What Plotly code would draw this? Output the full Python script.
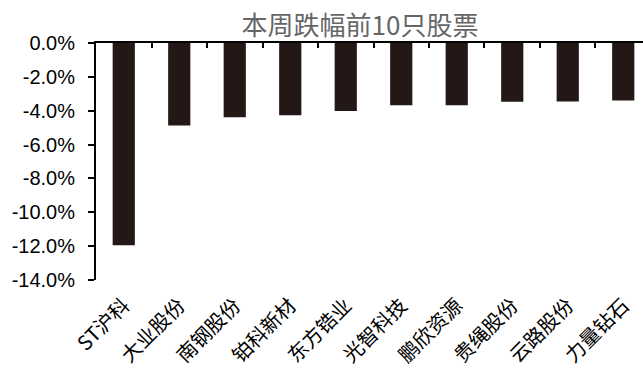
import plotly.graph_objects as go

categories = ["ST沪科", "大业股份", "南钢股份", "铂科新材", "东方锆业",
              "光智科技", "鹏欣资源", "贵绳股份", "云路股份", "力量钻石"]
values = [-11.94, -4.88, -4.39, -4.27, -4.02, -3.68, -3.68, -3.47, -3.45, -3.39]
y_ticks = [0, -2, -4, -6, -8, -10, -12, -14]
y_labels = ["0.0%", "-2.0%", "-4.0%", "-6.0%", "-8.0%", "-10.0%", "-12.0%", "-14.0%"]
title_text = "本周跌幅前10只股票"

font_main = "Liberation Sans, Arial, Noto Sans CJK SC, sans-serif"

fig = go.Figure()
fig.add_trace(go.Bar(x=categories, y=values, marker=dict(color="#231815", line=dict(width=0)),
                     width=0.4, hoverinfo="skip", xaxis="x", yaxis="y"))
fig.add_trace(go.Scatter(x=categories, y=values, mode="markers", marker=dict(opacity=0),
                         hoverinfo="skip", xaxis="x2", yaxis="y", showlegend=False))

xr = [-0.5, 9.356]
fig.update_layout(
    width=643, height=368,
    margin=dict(l=96, r=0, t=43, b=88),
    paper_bgcolor="white", plot_bgcolor="white",
    showlegend=False,
    title=dict(text=title_text, x=(360 - 96) / 547, xanchor="center", xref="paper",
               y=1 - 26 / 368, yanchor="middle", yref="container",
               font=dict(family="Noto Sans CJK SC, sans-serif", size=26, color="#666666")),
    xaxis=dict(type="category", categoryarray=categories, range=xr, side="bottom",
               showline=False, ticks="", tickangle=-45, showgrid=False, zeroline=False,
               ticklabelstandoff=9,
               tickfont=dict(family="Noto Sans CJK SC, Liberation Sans, sans-serif", size=20, color="black")),
    xaxis2=dict(type="category", categoryarray=categories, range=xr, overlaying="x",
                side="top", anchor="y", showline=True, linecolor="black", linewidth=2,
                ticks="inside", tickson="boundaries", ticklen=5, tickwidth=2, tickcolor="black",
                showticklabels=False, showgrid=False, zeroline=False),
    yaxis=dict(range=[-14, 0], tickvals=y_ticks, ticktext=y_labels, showline=True,
               linecolor="black", linewidth=2, ticks="outside", ticklen=6, tickwidth=2,
               tickcolor="black", showgrid=False, zeroline=False, ticklabelstandoff=9,
               tickfont=dict(family=font_main, size=20, color="black")),
)

fig.write_html("out.html")
